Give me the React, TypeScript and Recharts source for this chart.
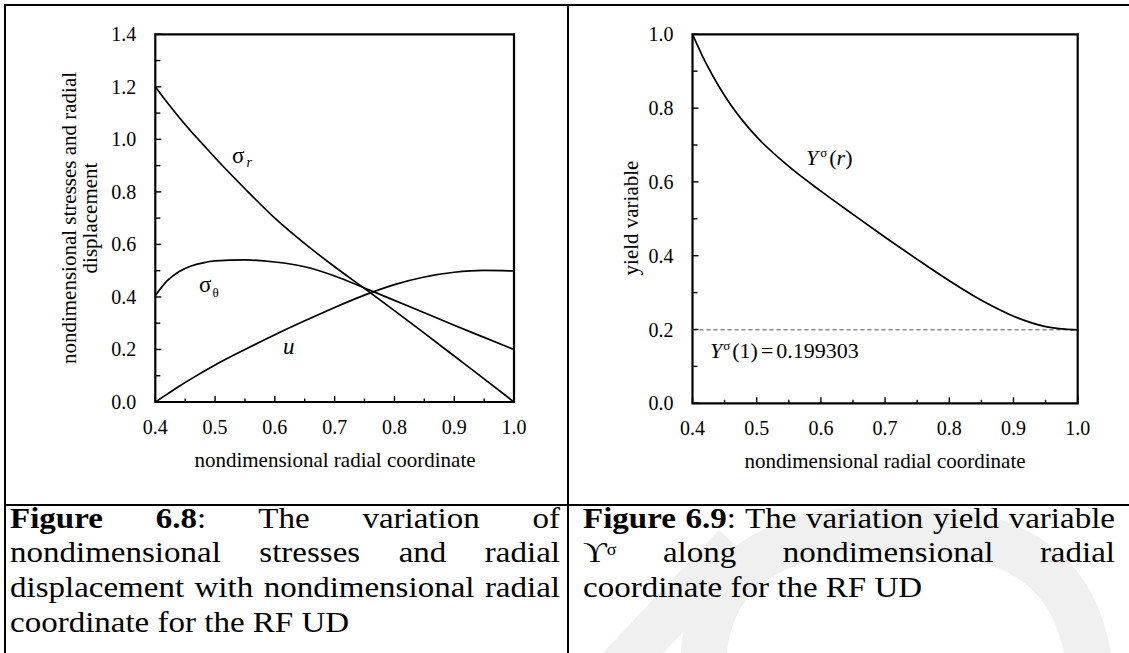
import React from 'react';
import { LineChart, Line, XAxis, YAxis, ReferenceLine, ReferenceArea } from 'recharts';

// ---------- data ----------
const radialCoord = [0.40, 0.42, 0.44, 0.46, 0.48, 0.50, 0.55, 0.60, 0.65, 0.70, 0.75, 0.80, 0.85, 0.90, 0.95, 1.00];
const sigmaR = [1.200, 1.140, 1.083, 1.030, 0.980, 0.930, 0.812, 0.700, 0.603, 0.515, 0.432, 0.348, 0.262, 0.175, 0.088, 0.000];
const sigmaTheta = [0.405, 0.462, 0.497, 0.518, 0.530, 0.537, 0.541, 0.533, 0.515, 0.480, 0.434, 0.387, 0.340, 0.292, 0.246, 0.200];
const dispU = [0.000, 0.030, 0.060, 0.088, 0.115, 0.141, 0.200, 0.256, 0.309, 0.360, 0.407, 0.447, 0.476, 0.494, 0.501, 0.499];
const yieldVar = [1.000, 0.925, 0.862, 0.808, 0.762, 0.722, 0.642, 0.575, 0.512, 0.450, 0.390, 0.332, 0.279, 0.236, 0.208, 0.199];
const yieldAtOne = 0.199303;

const xTicks = [0.4, 0.45, 0.5, 0.55, 0.6, 0.65, 0.7, 0.75, 0.8, 0.85, 0.9, 0.95, 1.0];
const leftYTicks = [0, 0.1, 0.2, 0.3, 0.4, 0.5, 0.6, 0.7, 0.8, 0.9, 1.0, 1.1, 1.2, 1.3, 1.4];
const rightYTicks = [0, 0.1, 0.2, 0.3, 0.4, 0.5, 0.6, 0.7, 0.8, 0.9, 1.0];

const stressData = radialCoord.map((r, i) => ({ r, sr: sigmaR[i], st: sigmaTheta[i], u: dispU[i] }));
const yieldData = radialCoord.map((r, i) => ({ r, y: yieldVar[i] }));

const FONT = '"Liberation Serif", "Times New Roman", Times, serif';
const isMajorX = (v: number) => Math.abs(v * 10 - Math.round(v * 10)) < 1e-6;
const isMajorY = (v: number) => Math.abs(v * 5 - Math.round(v * 5)) < 1e-6;

function XTick(props: any) {
  const { x, y, payload } = props;
  const v = payload.value;
  const major = isMajorX(v);
  return (
    <g>
      <line x1={x} x2={x} y1={y} y2={y - (major ? 6 : 3.5)} stroke="#000" strokeWidth={1.4} />
      {major && (
        <text x={x} y={y + 25} textAnchor="middle" dominantBaseline="central" fontFamily={FONT} fontSize={20} fill="#000">
          {v.toFixed(1)}
        </text>
      )}
    </g>
  );
}

function YTick(props: any) {
  const { x, y, payload } = props;
  const v = payload.value;
  const major = isMajorY(v);
  return (
    <g>
      <line x1={x} x2={x + (major ? 6 : 5)} y1={y} y2={y} stroke="#000" strokeWidth={1.4} />
      {major && (
        <text x={x - 19} y={y} textAnchor="end" dominantBaseline="central" fontFamily={FONT} fontSize={20} fill="#000">
          {v.toFixed(1)}
        </text>
      )}
    </g>
  );
}

const lineStyle = { stroke: '#000', strokeWidth: 1.7, dot: false as const, isAnimationActive: false, type: 'monotone' as const };

function StressChart() {
  return (
    <LineChart width={563} height={500} data={stressData} margin={{ top: 29.3, right: 54, bottom: 73, left: 90.3 }}>
      <XAxis dataKey="r" type="number" domain={[0.4, 1]} ticks={xTicks} interval={0} tick={<XTick />}
        tickSize={0} tickMargin={0} axisLine={false} tickLine={false} height={30} allowDataOverflow />
      <YAxis type="number" domain={[0, 1.4]} ticks={leftYTicks} interval={0} tick={<YTick />}
        tickSize={0} tickMargin={0} axisLine={false} tickLine={false} width={60} allowDataOverflow />
      <ReferenceArea x1={0.4} x2={1} y1={0} y2={1.4} fill="none" fillOpacity={0} stroke="#000" strokeWidth={2.2} ifOverflow="visible" />
      <Line dataKey="sr" {...lineStyle} />
      <Line dataKey="st" {...lineStyle} />
      <Line dataKey="u" {...lineStyle} />
    </LineChart>
  );
}

function YieldChart() {
  return (
    <LineChart width={559} height={500} data={yieldData} margin={{ top: 29.3, right: 49.3, bottom: 71.7, left: 64.5 }}>
      <XAxis dataKey="r" type="number" domain={[0.4, 1]} ticks={xTicks} interval={0} tick={<XTick />}
        tickSize={0} tickMargin={0} axisLine={false} tickLine={false} height={30} allowDataOverflow />
      <YAxis type="number" domain={[0, 1]} ticks={rightYTicks} interval={0} tick={<YTick />}
        tickSize={0} tickMargin={0} axisLine={false} tickLine={false} width={60} allowDataOverflow />
      <ReferenceLine y={yieldAtOne} stroke="#8a8a8a" strokeWidth={1.3} strokeDasharray="4 3" ifOverflow="visible" />
      <ReferenceArea x1={0.4} x2={1} y1={0} y2={1} fill="none" fillOpacity={0} stroke="#000" strokeWidth={2.2} ifOverflow="visible" />
      <Line dataKey="y" {...lineStyle} />
    </LineChart>
  );
}

const lineDiv: React.CSSProperties = { whiteSpace: 'nowrap', textAlign: 'justify', textAlignLast: 'justify' };

export default function App() {
  const capFont: React.CSSProperties = {
    fontFamily: FONT, fontSize: 33, lineHeight: '38.33px', color: '#000',
    transform: 'scaleY(0.9)', transformOrigin: 'left top',
  };
  return (
    <div style={{ position: 'absolute', left: 0, top: 0, width: 1129, height: 653, background: '#fff', overflow: 'hidden' }}>
      {/* watermark */}
      <svg width={1129} height={653} style={{ position: 'absolute', left: 0, top: 0 }}>
        <path d="M 705 700 C 690 580, 760 530, 890 528 C 1020 528, 1090 570, 1092 700" fill="none" stroke="#f0f0f0" strokeWidth={46} />
        <path d="M 598 690 L 735 545" fill="none" stroke="#f0f0f0" strokeWidth={44} />
      </svg>

      {/* table borders */}
      <div style={{ position: 'absolute', left: 4, top: 4, width: 1125, height: 2, background: '#000' }} />
      <div style={{ position: 'absolute', left: 4, top: 4, width: 2, height: 649, background: '#000' }} />
      <div style={{ position: 'absolute', left: 567, top: 4, width: 2, height: 649, background: '#000' }} />
      <div style={{ position: 'absolute', left: 4, top: 504, width: 1125, height: 2, background: '#000' }} />

      {/* charts */}
      <div style={{ position: 'absolute', left: 5, top: 5 }}>
        <StressChart />
      </div>
      <div style={{ position: 'absolute', left: 568, top: 5 }}>
        <YieldChart />
      </div>

      {/* axis titles and curve labels */}
      <svg width={1129} height={653} style={{ position: 'absolute', left: 0, top: 0, pointerEvents: 'none' }} fontFamily={FONT} fill="#000">
        <text x={69} y={218} fontSize={21} textAnchor="middle" dominantBaseline="central" transform="rotate(-90 69 218)">nondimensional stresses and radial</text>
        <text x={90} y={218} fontSize={21} textAnchor="middle" dominantBaseline="central" transform="rotate(-90 90 218)">displacement</text>
        <text x={335} y={460} fontSize={21} textAnchor="middle" dominantBaseline="central">nondimensional radial coordinate</text>

        <text x={631} y={218} fontSize={21} textAnchor="middle" dominantBaseline="central" transform="rotate(-90 631 218)">yield variable</text>
        <text x={885} y={461} fontSize={21} textAnchor="middle" dominantBaseline="central">nondimensional radial coordinate</text>

        <text x={232} y={163} fontSize={23}>σ<tspan fontSize={14} fontStyle="italic" dx={2} dy={4}>r</tspan></text>
        <text x={199} y={292} fontSize={23}>σ<tspan fontSize={13} dx={1} dy={5}>θ</tspan></text>
        <text x={283} y={354} fontSize={23} fontStyle="italic">u</text>

        <text x={806} y={165} fontSize={22}>
          <tspan fontStyle="italic">Y</tspan>
          <tspan fontSize={13} dx={2} dy={-8}>σ</tspan>
          <tspan dx={2} dy={8}>(</tspan>
          <tspan fontStyle="italic">r</tspan>
          <tspan>)</tspan>
        </text>
        <text x={710} y={358} fontSize={22}>
          <tspan fontStyle="italic">Y</tspan>
          <tspan fontSize={13} dx={1} dy={-8}>σ</tspan>
          <tspan dx={2} dy={8}>(1)</tspan>
          <tspan dx={3}>=</tspan>
          <tspan dx={3}>0.199303</tspan>
        </text>
      </svg>

      {/* captions */}
      <div style={{ position: 'absolute', left: 10, top: 500.7, width: 550, ...capFont }}>
        <div style={lineDiv}><b>Figure 6.8</b>: The variation of</div>
        <div style={lineDiv}>nondimensional stresses and radial</div>
        <div style={lineDiv}>displacement with nondimensional radial</div>
        <div style={{ whiteSpace: 'nowrap' }}>coordinate for the RF UD</div>
      </div>
      <div style={{ position: 'absolute', left: 583, top: 500.7, width: 532, ...capFont }}>
        <div style={lineDiv}><b>Figure 6.9</b>: The variation yield variable</div>
        <div style={lineDiv}>ϒ<sup style={{ fontSize: 18, verticalAlign: 'top', lineHeight: '32px' }}>σ</sup> along nondimensional radial</div>
        <div style={{ whiteSpace: 'nowrap' }}>coordinate for the RF UD</div>
      </div>
    </div>
  );
}
